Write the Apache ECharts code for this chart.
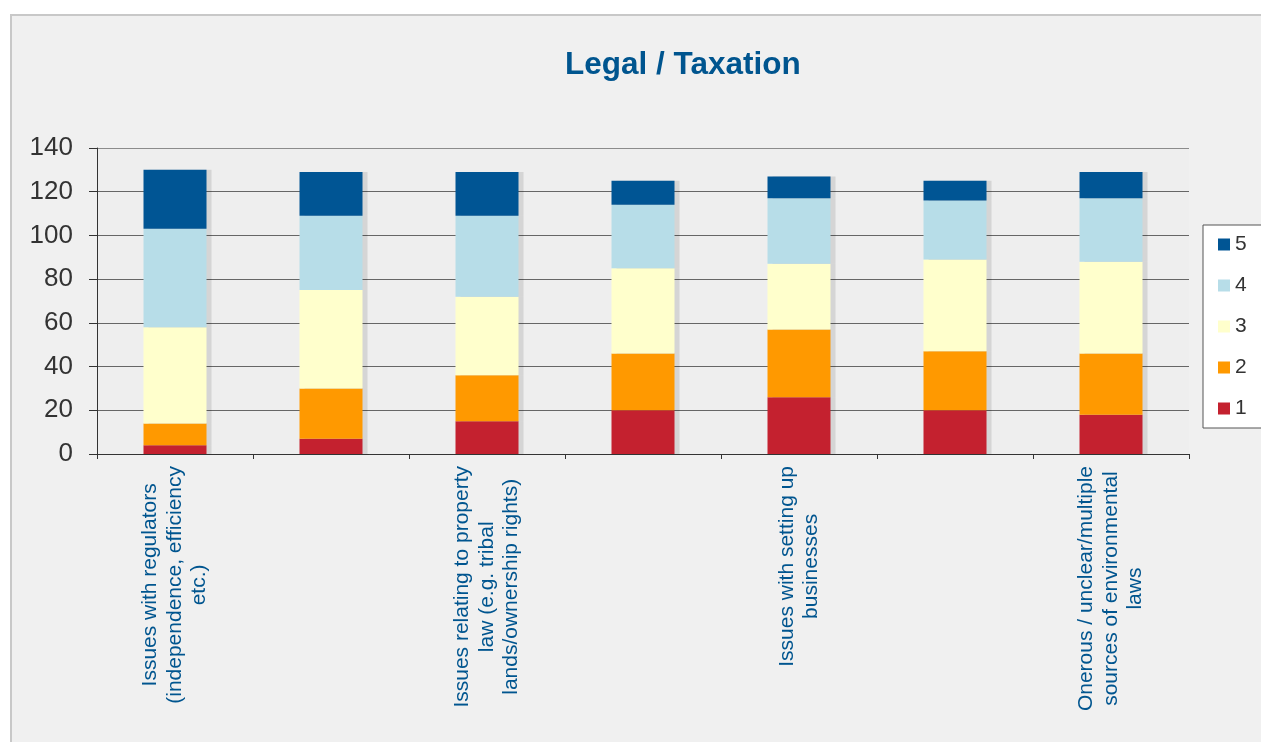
<!DOCTYPE html>
<html>
<head>
<meta charset="utf-8">
<title>Legal / Taxation</title>
<script src="https://cdn.jsdelivr.net/npm/echarts@6/dist/echarts.min.js"></script>
<style>
  html, body { margin: 0; padding: 0; background: #ffffff; }
  #frame {
    position: absolute; left: 10px; top: 14px; width: 1300px; height: 800px;
    background: #f0f0f0; border-left: 2px solid #c8c8c8; border-top: 2px solid #c8c8c8;
    box-sizing: border-box;
  }
  #chart { position: absolute; left: 0; top: 0; width: 1261px; height: 742px; }
</style>
</head>
<body>
<div id="frame"></div>
<div id="chart"></div>
<script>
// Survey responses by rating (1-5) for each legal / taxation issue
const categories = [
  'Issues with regulators\n(independence, efficiency\netc.)',
  '',
  'Issues relating to property\nlaw (e.g. tribal\nlands/ownership rights)',
  '',
  'Issues with setting up\nbusinesses',
  '',
  'Onerous / unclear/multiple\nsources of environmental\nlaws'
];
const seriesNames = ['1', '2', '3', '4', '5'];
const rating1 = [4, 7, 15, 20, 26, 20, 18];
const rating2 = [10, 23, 21, 26, 31, 27, 28];
const rating3 = [44, 45, 36, 39, 30, 42, 42];
const rating4 = [45, 34, 37, 29, 30, 27, 29];
const rating5 = [27, 20, 20, 11, 10, 9, 12];
const yTicks = [0, 20, 40, 60, 80, 100, 120, 140];

// ---- styling ----
const colors = ['#c4212f', '#ff9900', '#ffffcc', '#b7dde8', '#005594'];
const blue = '#00558f';
const font = '"Liberation Sans", Arial, sans-serif';

const seriesData = [rating1, rating2, rating3, rating4, rating5];

const chart = echarts.init(document.getElementById('chart'), null, { renderer: 'canvas' });
chart.setOption({
  animation: false,
  backgroundColor: 'transparent',
  title: {
    text: 'Legal / Taxation',
    left: 560,
    top: 44,
    textStyle: { fontSize: 31.5, fontWeight: 'bold', fontFamily: font, color: blue }
  },
  legend: {
    data: seriesNames.slice().reverse(),
    orient: 'vertical',
    left: 1203,
    top: 225,
    padding: [9, 20, 9, 15],
    itemWidth: 12,
    itemHeight: 12,
    itemGap: 20,
    icon: 'rect',
    backgroundColor: '#ffffff',
    borderColor: '#555555',
    borderWidth: 1,
    borderRadius: 0,
    textStyle: { fontSize: 21, fontFamily: font, color: '#333333' }
  },
  grid: {
    left: 97,
    right: 72,
    top: 148,
    bottom: 288,
    show: true,
    backgroundColor: '#eeeeee',
    borderWidth: 0,
    containLabel: false,
    outerBoundsMode: 'none'
  },
  xAxis: {
    type: 'category',
    data: categories,
    axisLine: { lineStyle: { color: '#333333', width: 1 } },
    axisTick: { show: true, length: 5, interval: 0, lineStyle: { color: '#333333' } },
    axisLabel: {
      interval: 1,
      rotate: 90,
      margin: 12,
      fontSize: 21,
      fontFamily: font,
      color: blue,
      // each wrapped line is centred within the rotated label block
      formatter: function (value) {
        return value.split('\n').map(l => '{c|' + l + '}').join('\n');
      },
      rich: {
        c: { align: 'center', fontSize: 21, fontFamily: font, color: blue, lineHeight: 24.5 }
      }
    }
  },
  yAxis: {
    type: 'value',
    min: yTicks[0],
    max: yTicks[yTicks.length - 1],
    interval: yTicks[1] - yTicks[0],
    axisLine: { show: true, lineStyle: { color: '#333333', width: 1 } },
    axisTick: { show: true, length: 8, lineStyle: { color: '#333333' } },
    axisLabel: { margin: 24, fontSize: 26, fontFamily: font, color: '#333333' },
    splitLine: {
      show: true,
      lineStyle: {
        color: ['#666666', '#666666', '#666666', '#666666', '#666666', '#666666', '#666666', '#8c8c8c'],
        width: 1
      }
    }
  },
  series: seriesNames.map((name, i) => ({
    name: name,
    type: 'bar',
    stack: 'ratings',
    barWidth: 63,
    data: seriesData[i],
    itemStyle: {
      color: colors[i],
      shadowColor: 'rgba(0,0,0,0.1)',
      shadowOffsetX: 5,
      shadowOffsetY: 0,
      shadowBlur: 0
    }
  }))
});
</script>
</body>
</html>
